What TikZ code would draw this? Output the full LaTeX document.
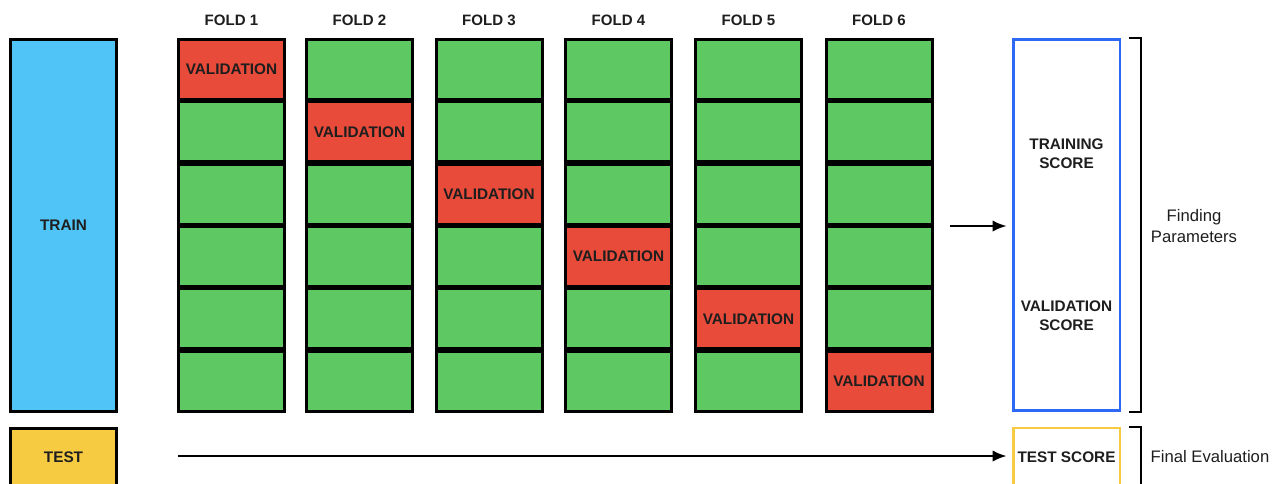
\documentclass[tikz,border=0pt]{standalone}
\usepackage{fontspec}
\setmainfont{Liberation Sans}
\usetikzlibrary{arrows.meta}
\definecolor{trainblue}{HTML}{50C3F7}
\definecolor{foldgreen}{HTML}{5EC962}
\definecolor{valred}{HTML}{E94B3A}
\definecolor{testyellow}{HTML}{F6CB42}
\definecolor{scoreblue}{HTML}{2D69F5}
\definecolor{ink}{HTML}{1E1E1E}
\begin{document}
\begin{tikzpicture}[x=0.75pt,y=-0.75pt,
  box/.style={draw=black, line width=2.25pt, inner sep=0pt, text=ink,
    font=\bfseries\fontsize{11.5}{13}\selectfont},
  cell/.style={box, minimum width=79.5pt, minimum height=45pt},
  foldlabel/.style={text=ink, font=\bfseries\fontsize{11.3}{13}\selectfont},
  scorebox/.style={draw=#1, line width=1.9pt, inner sep=0pt, text=ink, align=center,
    minimum width=79.9pt, font=\bfseries\fontsize{11.5}{14.25}\selectfont},
  scoretext/.style={text=ink, align=center, font=\bfseries\fontsize{11.5}{14.25}\selectfont},
  note/.style={text=ink, align=center, font=\fontsize{12.5}{15.75}\selectfont},
  arr/.style={line width=1.6pt, shorten >=4pt, -{Latex[length=10.5pt,width=8.5pt]}},
  brace/.style={line width=2pt, line join=miter}]
\useasboundingbox (0,0) rectangle (1284,483);
\clip (0,0) rectangle (1284,483);

% data split
\node[box, fill=trainblue, minimum width=79.5pt, minimum height=279pt] (train) at (63.5,225.5) {TRAIN};
\node[box, fill=testyellow, minimum width=79.5pt, minimum height=43.5pt] (test) at (63.5,457) {TEST};

% six folds, the validation block moves down one row per fold
\foreach \x [count=\i] in {231.5,359.5,489,618.5,748.5,879} {
  \node[foldlabel] (fold\i) at (\x,20) {FOLD \i};
  \foreach \j in {1,...,6} {
    \pgfmathsetmacro\yy{39.5+62.33*(\j-1)+30}
    \ifnum\i=\j
      \node[cell, fill=valred] (c\i-\j) at (\x,\yy) {VALIDATION};
    \else
      \node[cell, fill=foldgreen] (c\i-\j) at (\x,\yy) {};
    \fi
  }
}

% scores
\node[scorebox=scoreblue, minimum height=278.6pt] (scores) at (1066.5,225) {};
\node[scoretext] (trainscore) at (1066.5,153.5) {TRAINING\\SCORE};
\node[scoretext] (valscore) at (1066.5,315.5) {VALIDATION\\SCORE};
\node[scorebox=testyellow, minimum height=43.5pt] (testscore) at (1066.5,457) {TEST SCORE};

% connectors
\coordinate (a1) at (950,226);
\draw[arr] (a1) -- (scores.west |- a1);
\coordinate (a2) at (178,456);
\draw[arr] (a2) -- (testscore.west |- a2);

% brackets and notes
\coordinate (b1t) at (1129,38);
\coordinate (b1b) at (1129,412);
\draw[brace] (b1t) -- ++(12,0) |- (b1b);
\coordinate (b2t) at (1129,427);
\coordinate (b2b) at (1129,500);
\draw[brace] (b2t) -- ++(12,0) |- (b2b);
\node[note] (findp) at (1194,226) {Finding\\Parameters};
\node[note] (finale) at (1210,457) {Final Evaluation};
\end{tikzpicture}
\end{document}
